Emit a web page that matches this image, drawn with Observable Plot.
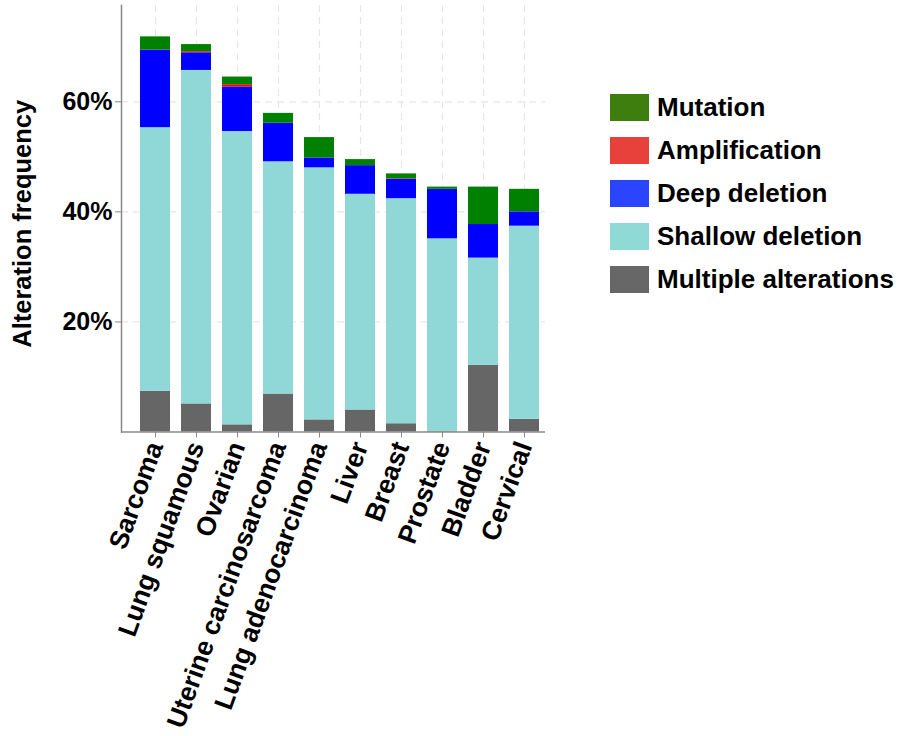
<!DOCTYPE html>
<html>
<head>
<meta charset="utf-8">
<script src="https://cdn.jsdelivr.net/npm/d3@7"></script>
<script src="https://cdn.jsdelivr.net/npm/@observablehq/plot@0.6"></script>
<style>
  html, body { margin: 0; padding: 0; background: #fff; }
  #wrap { position: relative; width: 910px; height: 736px; font-family: "Liberation Sans", Arial, sans-serif; }
  #legend { position: absolute; left: 610px; top: 94px; }
  .item { display: flex; align-items: center; height: 27px; margin-bottom: 16px; }
  .sw { width: 39px; height: 27px; margin-right: 8px; box-sizing: border-box; }
  .lab { font-size: 26px; font-weight: bold; color: #000; white-space: nowrap; }
</style>
</head>
<body>
<div id="wrap"><div id="chart"></div><div id="legend"></div></div>
<script>
const categories = ["Sarcoma", "Lung squamous", "Ovarian", "Uterine carcinosarcoma", "Lung adenocarcinoma", "Liver", "Breast", "Prostate", "Bladder", "Cervical"];
// percentages per alteration type (stack order bottom -> top)
const multiple  = [7.4, 5.1, 1.3, 6.9, 2.2, 4.0, 1.5, 0.1, 12.1, 2.3];
const shallow   = [47.9, 60.6, 53.3, 42.2, 45.8, 39.2, 40.9, 35.0, 19.5, 35.1];
const deep      = [14.1, 3.2, 8.1, 7.0, 1.8, 5.2, 3.5, 9.0, 6.1, 2.6];
const amp       = [0, 0.2, 0.4, 0, 0, 0, 0.1, 0, 0, 0];
const mutation  = [2.4, 1.3, 1.4, 1.8, 3.7, 1.1, 0.9, 0.4, 6.8, 4.1];

const types = ["Multiple alterations", "Shallow deletion", "Deep deletion", "Amplification", "Mutation"];
const barColors = ["#666666", "#90D8D8", "#0000FF", "#FF0000", "#008000"];
const legendTypes = ["Mutation", "Amplification", "Deep deletion", "Shallow deletion", "Multiple alterations"];
const legendColors = ["#3E7E0E", "#E8403A", "#2B45FF", "#8FD9D6", "#676767"];
const yTicks = [20, 40, 60];

const series = [multiple, shallow, deep, amp, mutation];
const rows = [];
categories.forEach((c, i) => {
  types.forEach((t, j) => rows.push({cancer: c, type: t, value: series[j][i]}));
});

const font = "'Liberation Sans', Arial, sans-serif";
const chart = Plot.plot({
  width: 910,
  height: 736,
  marginLeft: 121,
  marginRight: 365,
  marginTop: 5,
  marginBottom: 304.5,
  style: {fontFamily: font, background: "#fff"},
  x: {domain: categories, range: [130.9, 546.9], paddingInner: 0.28, paddingOuter: 0.14},
  y: {domain: [0, 77.5]},
  color: {domain: types, range: barColors},
  marks: [
    Plot.gridX(categories, {stroke: "#e6e6e6", strokeOpacity: 1, strokeDasharray: "7,5", strokeWidth: 1.2}),
    Plot.gridY(yTicks, {stroke: "#e6e6e6", strokeOpacity: 1, strokeDasharray: "7,5", strokeWidth: 1.2}),
    Plot.barY(rows, {x: "cancer", y: "value", fill: "type", order: types, inset: 0}),
    Plot.frame({anchor: "left", stroke: "#888", strokeWidth: 1.5}),
    Plot.ruleY([0], {stroke: "#888", strokeWidth: 1.5}),
    Plot.axisY({ticks: yTicks, tickFormat: d => d + "%", label: null, tickSize: 6, tickPadding: 3,
      fontSize: 25, fontWeight: "bold", fill: "#000", stroke: "#888"}),
    Plot.axisX({label: null, tickSize: 6, tickPadding: 5, tickRotate: -70,
      fontSize: 26.5, fontWeight: "bold", fill: "#000", stroke: "#888"}),
    Plot.text(["Alteration frequency"], {frameAnchor: "left", dx: -99, dy: 5, rotate: -90,
      fontSize: 25.5, fontWeight: "bold", fill: "#000", textAnchor: "middle"})
  ]
});
document.getElementById("chart").appendChild(chart);

const legend = document.getElementById("legend");
legendTypes.forEach((t, i) => {
  const it = document.createElement("div");
  it.className = "item";
  const sw = document.createElement("div");
  sw.className = "sw";
  sw.style.background = legendColors[i];
  const lab = document.createElement("div");
  lab.className = "lab";
  lab.textContent = t;
  it.appendChild(sw); it.appendChild(lab);
  legend.appendChild(it);
});
</script>
</body>
</html>
